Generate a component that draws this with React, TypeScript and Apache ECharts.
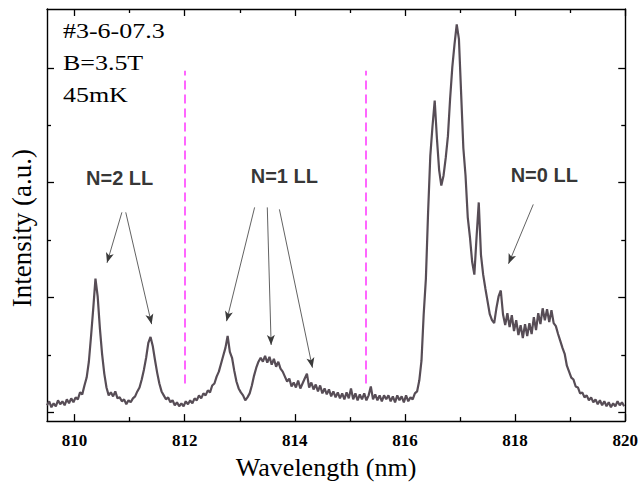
import React, { useEffect, useRef } from "react";
import * as echarts from "echarts";

// Spectrometer grid (nm) and measured photoluminescence counts
const WAVELENGTH_START = 809.5;
const WAVELENGTH_STEP = 0.04;
const INTENSITY = [
  70, 110, 50, 90, 60, 120, 80, 110, 70, 130, 90, 140, 100, 150, 130, 200, 180, 270, 350, 510,
  770, 1050, 1350, 1170, 850, 590, 390, 250, 170, 200, 160, 210, 140, 150, 110, 130, 80, 120, 100, 140,
  160, 210, 250, 330, 430, 550, 700, 760, 670, 530, 400, 290, 210, 170, 130, 150, 100, 120, 70, 100,
  60, 90, 60, 110, 80, 120, 90, 140, 120, 170, 140, 190, 170, 220, 200, 270, 290, 360, 410, 490,
  570, 650, 770, 610, 550, 420, 310, 240, 200, 170, 120, 150, 190, 270, 370, 450, 510, 550, 510, 570,
  500, 560, 480, 540, 460, 510, 440, 410, 360, 310, 340, 260, 300, 250, 320, 240, 290, 340, 390, 250,
  300, 230, 280, 210, 270, 190, 240, 180, 230, 160, 210, 150, 200, 140, 190, 130, 200, 140, 240, 130,
  190, 120, 180, 130, 190, 120, 170, 260, 130, 180, 120, 170, 110, 170, 130, 170, 110, 160, 100, 170,
  120, 160, 100, 170, 110, 150, 130, 190, 210, 320, 520, 990, 1350, 2020, 2590, 2890, 3150, 2770, 2450, 2290,
  2390, 2570, 2790, 3170, 3490, 3720, 3920, 3770, 3220, 2670, 2390, 1970, 1770, 1520, 1390, 1770, 2120, 1590, 1390, 1250,
  1120, 990, 930, 900, 1050, 1170, 1230, 990, 880, 1000, 860, 980, 820, 930, 780, 880, 750, 890, 770, 900,
  790, 960, 830, 1000, 890, 1050, 930, 1040, 910, 1030, 900, 870, 790, 720, 650, 590, 470, 410, 350, 330,
  260, 250, 190, 200, 150, 170, 120, 150, 100, 130, 80, 120, 70, 110, 60, 100, 50, 90, 60, 110,
  70, 100, 60,
];

const X_MIN = 809.5;
const X_MAX = 820;
const Y_MIN = -90;
const Y_MAX = 4075;
const X_MAJOR = [810, 812, 814, 816, 818, 820];
const X_MINOR = [811, 813, 815, 817, 819];
const Y_MAJOR = [0, 1160, 2320, 3480];
const Y_MINOR = [580, 1740, 2900];

// Boundaries between Landau-level groups (nm)
const LEVEL_BOUNDARIES = [812.0, 815.28];
const BOUNDARY_SPAN = [290, 3450];

// Level labels and the features they point at: [fromX, fromY, toX, toY]
const LEVEL_LABELS = [
  { text: "N=2 LL", x: 810.82, y: 2370 },
  { text: "N=1 LL", x: 813.81, y: 2390 },
  { text: "N=0 LL", x: 818.53, y: 2400 },
];
const ARROWS: [number, number, number, number][] = [
  [810.86, 2020, 810.59, 1510],
  [810.93, 2020, 811.40, 890],
  [813.27, 2070, 812.76, 920],
  [813.5, 2070, 813.57, 680],
  [813.72, 2050, 814.32, 450],
  [818.33, 2100, 817.88, 1500],
];

const SAMPLE_INFO = ["#3-6-07.3", "B=3.5T", "45mK"];

const SERIF = "'Liberation Serif', 'Times New Roman', serif";
const SANS = "'Liberation Sans', Arial, sans-serif";

export default function App() {
  const ref = useRef<HTMLDivElement>(null);

  useEffect(() => {
    if (!ref.current) return;
    const chart = echarts.init(ref.current, undefined, { renderer: "svg" });

    const data = INTENSITY.map((v, i) => [
      +(WAVELENGTH_START + i * WAVELENGTH_STEP).toFixed(2),
      v,
    ]);

    const frameLine = { show: true, onZero: false, lineStyle: { color: "#000", width: 1.4 } };
    const noLine = { show: false, onZero: false };

    const xAxis = (position: string, ticks: number[], len: number, line: boolean, labels: boolean) => ({
      type: "value",
      position,
      min: X_MIN,
      max: X_MAX,
      axisLine: line ? frameLine : noLine,
      splitLine: { show: false },
      axisTick: { show: true, inside: true, length: len, customValues: ticks, lineStyle: { color: "#000", width: 1.3 } },
      axisLabel: labels
        ? {
            show: true,
            customValues: X_MAJOR,
            margin: 11,
            color: "#000",
            fontFamily: SERIF,
            fontWeight: "bold",
            fontSize: 17,
          }
        : { show: false },
    });

    const yAxis = (position: string, ticks: number[], len: number, line: boolean) => ({
      type: "value",
      position,
      min: Y_MIN,
      max: Y_MAX,
      axisLine: line ? frameLine : noLine,
      splitLine: { show: false },
      axisTick: { show: true, inside: true, length: len, customValues: ticks, lineStyle: { color: "#000", width: 1.3 } },
      axisLabel: { show: false },
    });

    const xMain: any = xAxis("bottom", X_MAJOR, 7, true, true);
    xMain.name = "Wavelength (nm)";
    xMain.nameLocation = "middle";
    xMain.nameGap = 32;
    xMain.nameTextStyle = { fontFamily: SERIF, fontSize: 26, color: "#000", padding: [0, 20, 0, 0] };

    const yMain: any = yAxis("left", Y_MAJOR, 7, true);
    yMain.name = "Intensity (a.u.)";
    yMain.nameLocation = "middle";
    yMain.nameGap = 12;
    yMain.nameTextStyle = { fontFamily: SERIF, fontSize: 27, color: "#000", padding: [0, 26, 0, 0] };

    const option: any = {
      animation: false,
      backgroundColor: "#fff",
      grid: { left: 47, right: 14, top: 9, bottom: 59, containLabel: false },
      xAxis: [
        xMain,
        xAxis("bottom", X_MINOR, 4, false, false),
        xAxis("top", X_MAJOR, 7, true, false),
        xAxis("top", X_MINOR, 4, false, false),
      ],
      yAxis: [
        yMain,
        yAxis("left", Y_MINOR, 4, false),
        yAxis("right", Y_MAJOR, 7, true),
        yAxis("right", Y_MINOR, 4, false),
      ],
      series: [
        {
          type: "line",
          xAxisIndex: 0,
          yAxisIndex: 0,
          data,
          showSymbol: false,
          symbol: "none",
          lineStyle: { color: "#574d56", width: 2.2 },
          markLine: {
            silent: true,
            animation: false,
            label: { show: false },
            data: [
              ...LEVEL_BOUNDARIES.map((x) => [
                { coord: [x, BOUNDARY_SPAN[0]], symbol: "none" },
                {
                  coord: [x, BOUNDARY_SPAN[1]],
                  symbol: "none",
                  lineStyle: { color: "#ff66ff", width: 2, type: [9, 5] },
                },
              ]),
              ...ARROWS.map(([x1, y1, x2, y2]) => [
                { coord: [x1, y1], symbol: "none" },
                {
                  coord: [x2, y2],
                  symbol: "arrow",
                  symbolSize: [6, 10],
                  lineStyle: { color: "#3a3a3a", width: 0.8, type: "solid" },
                  itemStyle: { color: "#111" },
                },
              ]),
            ],
          },
        },
        {
          type: "scatter",
          xAxisIndex: 0,
          yAxisIndex: 0,
          data: LEVEL_LABELS.map((l) => [l.x, l.y, l.text]),
          symbolSize: 0,
          silent: true,
          label: {
            show: true,
            position: "inside",
            formatter: (p: any) => p.data[2],
            fontFamily: SANS,
            fontWeight: "bold",
            fontSize: 20,
            color: "#000",
          },
        },
      ],
      graphic: SAMPLE_INFO.map((t, i) => ({
        type: "text",
        x: 63,
        y: 31 + i * 32,
        scaleX: 1.18,
        silent: true,
        style: {
          text: t,
          fill: "#000",
          font: `22px ${SERIF}`,
          align: "left",
          verticalAlign: "middle",
          textAlign: "left",
          textVerticalAlign: "middle",
        },
      })),
    };

    chart.setOption(option);
    return () => chart.dispose();
  }, []);

  return (
    <div
      ref={ref}
      style={{ position: "fixed", left: 0, top: 0, width: 641, height: 485 }}
    />
  );
}
